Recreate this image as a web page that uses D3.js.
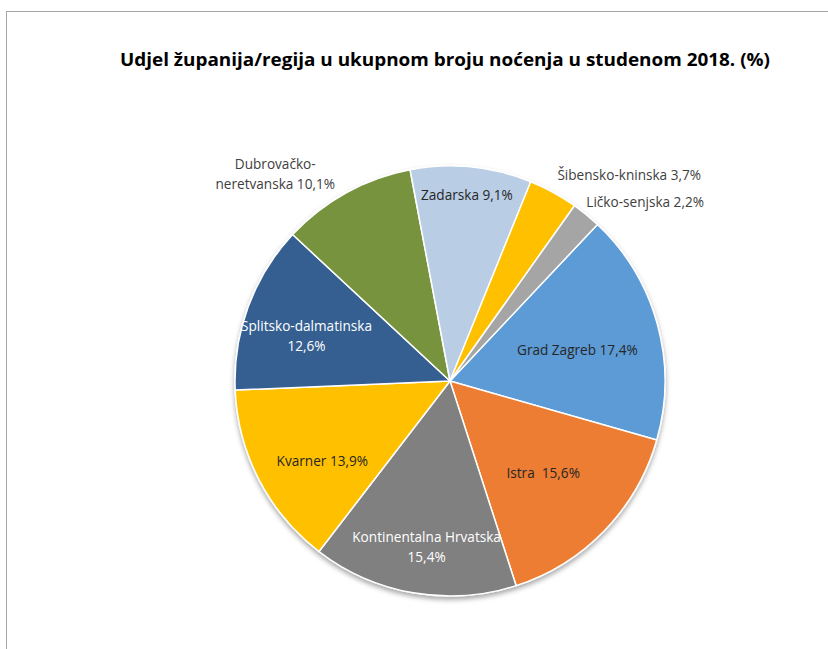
<html>
<head>
<meta charset="utf-8">
<script src="https://cdn.jsdelivr.net/npm/d3@7/dist/d3.min.js"></script>
<style>
  body { margin: 0; background: #fff; }
  svg { display: block; font-family: "Open Sans", "Noto Sans", sans-serif; }
  .lbl { white-space: pre; }
</style>
</head>
<body>
<svg id="svg"></svg>
<script>
// data (order as drawn, clockwise)
var regions = ["Grad Zagreb", "Istra", "Kontinentalna Hrvatska", "Kvarner",
               "Splitsko-dalmatinska", "Dubrovačko-neretvanska", "Zadarska",
               "Šibensko-kninska", "Ličko-senjska"];
var shares = [17.4, 15.6, 15.4, 13.9, 12.6, 10.1, 9.1, 3.7, 2.2];
var labelLines = [
  ["Grad Zagreb 17,4%"],
  ["Istra  15,6%"],
  ["Kontinentalna Hrvatska", "15,4%"],
  ["Kvarner 13,9%"],
  ["Splitsko-dalmatinska", "12,6%"],
  ["Dubrovačko-", "neretvanska 10,1%"],
  ["Zadarska 9,1%"],
  ["Šibensko-kninska 3,7%"],
  ["Ličko-senjska 2,2%"]
];
var colors = ["#5B9BD5", "#ED7D31", "#808080", "#FFC000", "#355F91",
              "#77933C", "#B9CDE5", "#FFC000", "#A5A5A5"];
var textColors = ["#262626", "#262626", "#fff", "#262626", "#fff",
                  "#404040", "#262626", "#404040", "#404040"];

// label placement: radius as fraction of pie radius, angle shift in degrees
var labelR = [0.61, 0.61, 0.78, 0.70, 0.70, 1.26, 0.87, 1.27, 1.23];
var labelShift = [1.5, 0.7, -1.8, -4.5, -2.7, -11.3, -0.5, 12.3, 8.2];

var width = 828, height = 649;
var cx = 450, cy = 381, radius = 215;

var svg = d3.select("svg")
    .attr("width", width)
    .attr("height", height);

// chart frame (only left / top edges visible)
svg.append("rect")
    .attr("x", 6.5).attr("y", 11.5)
    .attr("width", 900).attr("height", 700)
    .attr("fill", "none")
    .attr("stroke", "#A6A6A6")
    .attr("stroke-width", 1);

svg.append("text")
    .attr("x", 445).attr("y", 66)
    .attr("text-anchor", "middle")
    .attr("font-weight", "bold")
    .attr("font-size", 18.5)
    .attr("textLength", 650)
    .attr("lengthAdjust", "spacingAndGlyphs")
    .attr("fill", "#000")
    .text("Udjel županija/regija u ukupnom broju noćenja u studenom 2018. (%)");

var defs = svg.append("defs");
var shadow = defs.append("filter").attr("id", "shadow")
    .attr("x", "-20%").attr("y", "-20%").attr("width", "140%").attr("height", "140%");
shadow.append("feDropShadow")
    .attr("dx", 0).attr("dy", 3).attr("stdDeviation", 2.5)
    .attr("flood-color", "#000").attr("flood-opacity", 0.35);

var startA = 43.3 * Math.PI / 180;
var pie = d3.pie().sort(null)
    .startAngle(startA).endAngle(startA + 2 * Math.PI);
var arcs = pie(shares);

var arc = d3.arc().innerRadius(0).outerRadius(radius);

var g = svg.append("g").attr("transform", "translate(" + cx + "," + cy + ")");

g.append("g").attr("filter", "url(#shadow)")
  .selectAll("path")
  .data(arcs)
  .enter()
  .append("path")
    .attr("d", arc)
    .attr("fill", function(d, i) { return colors[i]; })
    .attr("stroke", "#fff")
    .attr("stroke-width", 1.5)
    .attr("stroke-linejoin", "round");

var labels = g.selectAll("text.lbl")
  .data(arcs)
  .enter()
  .append("text")
    .attr("class", "lbl")
    .attr("text-anchor", "middle")
    .attr("font-size", 13.6)
    .attr("fill", function(d, i) { return textColors[i]; })
    .attr("transform", function(d, i) {
        var a = (d.startAngle + d.endAngle) / 2 + labelShift[i] * Math.PI / 180;
        var r = radius * labelR[i];
        return "translate(" + (r * Math.sin(a)) + "," + (-r * Math.cos(a)) + ")";
    });

labels.each(function(d, i) {
    var lines = labelLines[i];
    var t = d3.select(this);
    lines.forEach(function(line, k) {
        t.append("tspan")
          .attr("x", 0)
          .attr("dy", k === 0 ? (5 - (lines.length - 1) * 10) : 20)
          .text(line);
    });
});
</script>
</body>
</html>
